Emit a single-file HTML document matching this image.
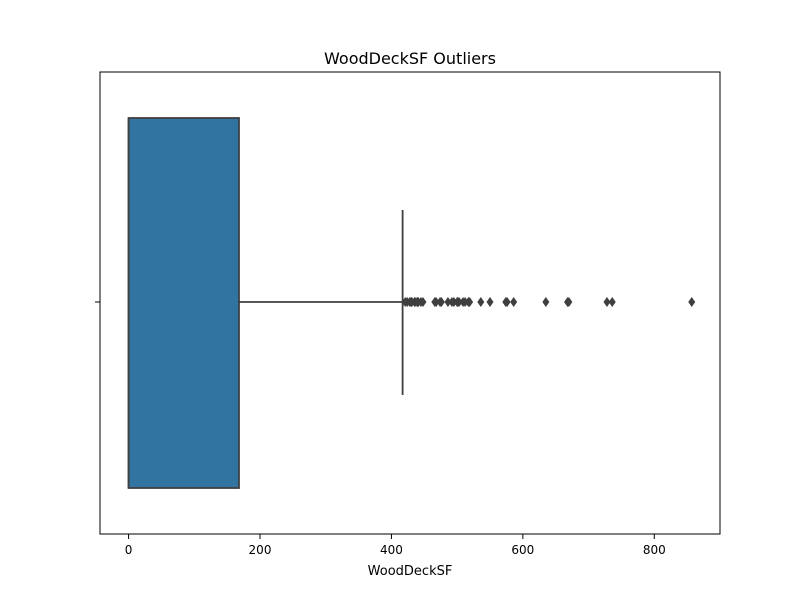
<!DOCTYPE html>
<html><head><meta charset="utf-8"><style>
body{margin:0;background:#fff;font-family:"Liberation Sans","DejaVu Sans",sans-serif}
</style></head><body>
<svg id="chart" width="800" height="600" xmlns="http://www.w3.org/2000/svg">
<rect width="800" height="600" fill="#fff"/>
<text x="410" y="64" font-size="16" text-anchor="middle" fill="#000" font-family="DejaVu Sans, sans-serif">WoodDeckSF Outliers</text>
<g id="marks"></g>
<rect x="100" y="72" width="620" height="462" fill="none" stroke="#000" stroke-width="1"/>
<g id="axis"></g>
<line x1="95" y1="302" x2="100" y2="302" stroke="#000"/>
<text x="410" y="575" font-size="13" text-anchor="middle" font-family="DejaVu Sans, sans-serif">WoodDeckSF</text>
</svg>
<script>
const stats = {q1:0, median:0, q3:168, whiskerLow:0, whiskerHigh:417};
const outliers = [421,424,428,430,431,435,436,439,440,441,445,448,466,468,474,476,486,492,495,500,501,503,509,512,517,519,536,550,574,576,586,635,668,670,728,736,857];
const ticks = [0,200,400,600,800];
const NS="http://www.w3.org/2000/svg";
const x0=-43.5,x1=900,px0=100,px1=720;
const X=v=>px0+(v-x0)/(x1-x0)*(px1-px0);
const cy=302, bTop=118, bBot=488, capTop=210, capBot=395;
const marks=document.getElementById('marks'), axis=document.getElementById('axis');
function mk(tag,attrs,parent){const e=document.createElementNS(NS,tag);for(const k in attrs)e.setAttribute(k,attrs[k]);parent.appendChild(e);return e;}
let e=mk('line',{x1:X(stats.q3),y1:cy,x2:X(stats.whiskerHigh),y2:cy,stroke:'#3f3f3f','stroke-width':1.8},marks);


e=mk('line',{x1:X(stats.whiskerHigh),y1:capTop,x2:X(stats.whiskerHigh),y2:capBot,stroke:'#3f3f3f','stroke-width':1.8},marks);


e=mk('rect',{x:X(stats.q1),y:bTop,width:X(stats.q3)-X(stats.q1),height:bBot-bTop,fill:'#3274a1',stroke:'#3f3f3f','stroke-width':1.8},marks);


e=mk('line',{x1:X(stats.median),y1:bTop,x2:X(stats.median),y2:bBot,stroke:'#3f3f3f','stroke-width':1.8},marks);


outliers.forEach(v=>{const x=X(v);
 const p=mk('polygon',{points:`${x},${cy-5} ${x+3.5},${cy} ${x},${cy+5} ${x-3.5},${cy}`,fill:'#3f3f3f'},marks);
 
 
});
ticks.forEach(t=>{const x=X(t);
 const l=mk('line',{x1:x,y1:534,x2:x,y2:539,stroke:'#000'},axis);
 
 
 const tx=mk('text',{x:x,y:554,'font-size':12,'text-anchor':'middle','font-family':'DejaVu Sans, sans-serif'},axis);
 tx.textContent=t;
 
 
});
</script>
</body></html>
